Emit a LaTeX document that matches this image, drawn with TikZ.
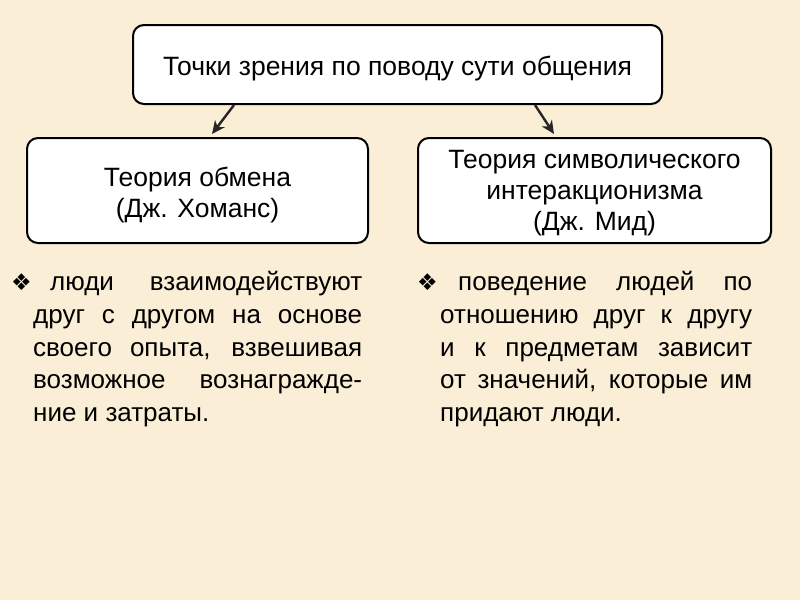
\documentclass[tikz,border=0pt]{standalone}
\usepackage{fontspec}
\setmainfont{Liberation Sans}
\newfontfamily\symfont{DejaVu Sans}
\usetikzlibrary{arrows.meta,positioning}
\definecolor{paper}{RGB}{251,238,214}
\tikzset{
  tbox/.style={draw=black,line width=2pt,rounded corners=11pt,fill=white,align=center,inner sep=0pt,font=\fontsize{26.5}{31}\selectfont},
  flow/.style={-{Stealth[length=13pt,width=12pt,inset=4pt]},line width=2.4pt,draw=black!85},
  ptext/.style={anchor=north west,inner sep=0pt,align=justify,font=\fontsize{26}{32.8}\selectfont}
}
% box text set a little lower than the middle
\newcommand{\boxtext}[2]{\raisebox{-#1}[\height][\depth]{\parbox{330pt}{\centering #2}}}
% bullet hanging out of the text block: #1 = pull-out, #2 = room up to the first word
\newcommand{\dia}[2]{\hspace*{-#1}\makebox[#2][l]{\symfont\fontsize{23}{23}\selectfont ❖}}
\begin{document}
\begin{tikzpicture}[x=1pt,y=-1pt]
  % background
  \fill[paper] (0,0) rectangle (800,600);
  \useasboundingbox (0,0) rectangle (800,600);
  % boxes
  \node[tbox,minimum width=529pt,minimum height=79pt] (view) at (397.5,64.5) {\raisebox{-4pt}[\height][\depth]{Точки зрения по поводу сути общения}};
  \node[tbox,minimum width=341pt,minimum height=105pt] (exch) at (197.5,190.5) {\boxtext{5pt}{Теория обмена\\(Дж. Хоманс)}};
  \node[tbox,minimum width=353pt,minimum height=105pt] (symb) at (594.5,190.5) {\boxtext{3pt}{Теория символического\\интеракционизма\\(Дж. Мид)}};
  % arrows
  \draw[flow] ([xshift=102pt]view.south west) -- ([xshift=186pt,yshift=3pt]exch.north west);
  \draw[flow] ([xshift=403pt]view.south west) -- ([xshift=137pt,yshift=3pt]symb.north west);
  % bullet texts
  \node[ptext,text width=329pt] (exchtext) at (33,271) {\dia{22pt}{39pt}люди взаимодействуют\linebreak друг с другом на основе\linebreak своего опыта, взвешивая\linebreak возможное вознагражде-\linebreak ние и затраты.};
  \node[ptext,text width=312pt] (symbtext) at (440,271) {\dia{23pt}{41pt}поведение людей по\linebreak отношению друг к другу\linebreak и к предметам зависит\linebreak от значений, которые им\linebreak придают люди.};
\end{tikzpicture}
\end{document}
